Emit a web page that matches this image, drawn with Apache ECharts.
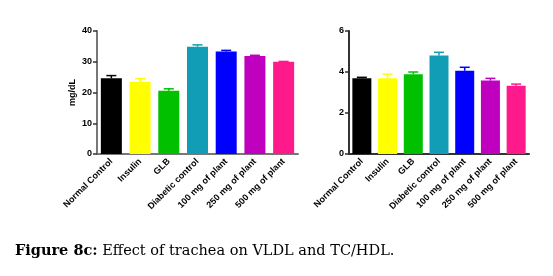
<!DOCTYPE html>
<html><head><meta charset="utf-8">
<script src="https://cdn.jsdelivr.net/npm/echarts@6/dist/echarts.min.js"></script>
<style>html,body{margin:0;padding:0;background:#fff}#c{width:553px;height:276px}</style>
</head><body><div id="c"></div>
<script>
const categories = ['Normal Control','Insulin','GLB','Diabetic control','100 mg of plant','250 mg of plant','500 mg of plant'];
const colors = ['#000000','#FFFF00','#00C000','#119DB5','#0000FF','#BF00BF','#FF1A8C'];
const vldlMean = [24.6, 23.5, 20.6, 34.9, 33.3, 31.9, 30.0];
const vldlErr  = [0.9, 1.0, 0.6, 0.6, 0.4, 0.2, 0.1];
const tchdlMean = [3.69, 3.69, 3.89, 4.81, 4.06, 3.58, 3.33];
const tchdlErr  = [0.05, 0.21, 0.11, 0.15, 0.17, 0.11, 0.08];
const leftTicks = {min:0, max:40, interval:10};
const rightTicks = {min:0, max:6, interval:2};
const captionBold = 'Figure 8c:';
const captionText = ' Effect of trachea on VLDL and TC/HDL.';

const chart = echarts.init(document.getElementById('c'), null, {renderer:'canvas'});
const labelFont = {fontFamily:'Liberation Sans', fontWeight:'bold', fontSize:9, color:'#000'};

function xAx(gi){return {type:'category', gridIndex:gi, data:categories,
  axisLine:{lineStyle:{color: gi===0?'#777':'#333', width:2}},
  axisTick:{alignWithLabel:true, length:4, lineStyle:{color:'#333', width:1.5}},
  axisLabel:Object.assign({rotate:45, margin:6, interval:0}, labelFont)};}
function yAx(gi, t){return {type:'value', gridIndex:gi, min:t.min, max:t.max, interval:t.interval,
  splitLine:{show:false},
  axisLine:{show:true, lineStyle:{color: gi===0?'#777':'#333', width:2}},
  axisTick:{show:true, length:4, lineStyle:{color:'#333', width:1.5}},
  axisLabel:Object.assign({margin:5}, labelFont, {fontSize:9}),
  name: gi===0?'mg/dL':'', nameLocation:'middle', nameGap:20,
  nameTextStyle:Object.assign({}, labelFont, {fontSize:9})};}

function barData(vals){return vals.map((v,i)=>({value:v, itemStyle:{color:colors[i]}}));}
function errSeries(xi, yi, means, errs){
  return {type:'custom', xAxisIndex:xi, yAxisIndex:yi, z:1,
    data: means.map((m,i)=>[i, m, m+errs[i]]),
    renderItem:function(params, api){
      const x = api.coord([api.value(0), api.value(1)]);
      const top = api.coord([api.value(0), api.value(2)]);
      const c = colors[params.dataIndex];
      const hw = 5;
      return {type:'group', children:[
        {type:'line', shape:{x1:x[0], y1:x[1], x2:x[0], y2:top[1]}, style:{stroke:c, lineWidth:1.5}},
        {type:'line', shape:{x1:x[0]-hw, y1:top[1], x2:x[0]+hw, y2:top[1]}, style:{stroke:c, lineWidth:1.5}}
      ]};
    }};
}

chart.setOption({
  animation:false,
  grid:[{left:97, width:201, top:31, height:123},{left:349, width:180, top:31, height:123}],
  xAxis:[xAx(0), xAx(1)],
  yAxis:[yAx(0,leftTicks), yAx(1,rightTicks)],
  series:[
    errSeries(0,0,vldlMean,vldlErr),
    {type:'bar', xAxisIndex:0, yAxisIndex:0, data:barData(vldlMean), barWidth:21, z:2},
    errSeries(1,1,tchdlMean,tchdlErr),
    {type:'bar', xAxisIndex:1, yAxisIndex:1, data:barData(tchdlMean), barWidth:19, z:2}
  ],
  graphic:[{type:'text', left:15, top:244, style:{
    text:'{b|'+captionBold+'}{r|'+captionText+'}',
    rich:{b:{fontFamily:'DejaVu Serif', fontWeight:'bold', fontSize:14.5, fill:'#000'},
          r:{fontFamily:'DejaVu Serif', fontSize:14.5, fill:'#000'}}}}]
});
</script></body></html>
